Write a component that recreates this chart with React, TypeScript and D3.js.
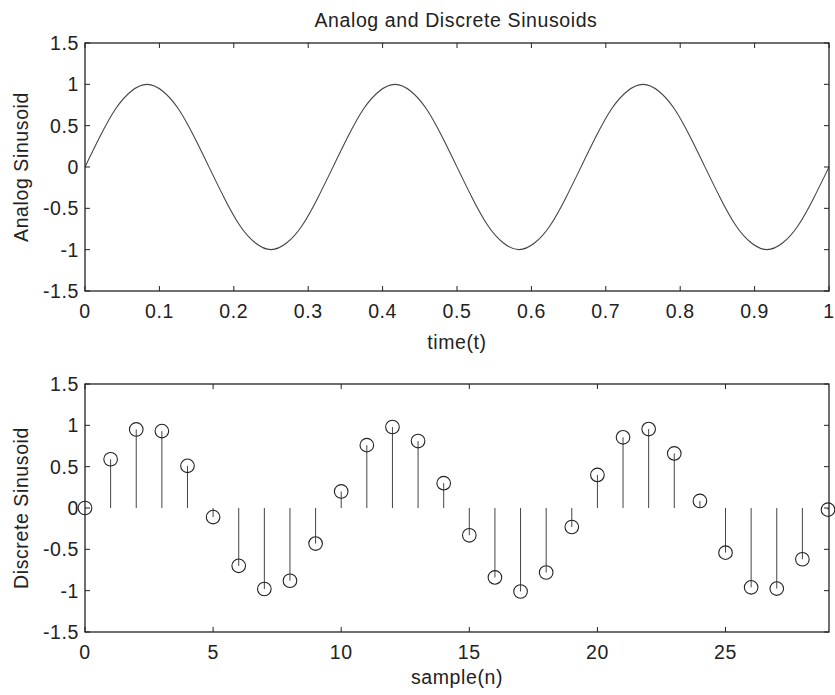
import React from 'react';
import * as d3 from 'd3';

// analog sinusoid (evenly spaced over t = 0..1)
const analogValues = [
  0, 0.38, 0.71, 0.92, 1, 0.92, 0.71, 0.38, 0, -0.38, -0.71, -0.92, -1, -0.92, -0.71, -0.38,
  0, 0.38, 0.71, 0.92, 1, 0.92, 0.71, 0.38, 0, -0.38, -0.71, -0.92, -1, -0.92, -0.71, -0.38,
  0, 0.38, 0.71, 0.92, 1, 0.92, 0.71, 0.38, 0, -0.38, -0.71, -0.92, -1, -0.92, -0.71, -0.38, 0,
];

// discrete samples n = 0..29
const discreteValues = [
  0, 0.59, 0.95, 0.93, 0.51, -0.11, -0.7, -0.98, -0.88, -0.43,
  0.2, 0.76, 0.98, 0.81, 0.3, -0.33, -0.84, -1.01, -0.78, -0.23,
  0.4, 0.855, 0.955, 0.66, 0.085, -0.54, -0.96, -0.975, -0.62, -0.02,
];

const timeTicks = [0, 0.1, 0.2, 0.3, 0.4, 0.5, 0.6, 0.7, 0.8, 0.9, 1];
const sampleTicks = [0, 5, 10, 15, 20, 25];
const yTicks = [-1.5, -1, -0.5, 0, 0.5, 1, 1.5];

const W = 835;
const H = 695;
const left = 85;
const right = 829;
const ink = '#222';
const lineCol = '#444';
const font = '"Liberation Sans", Arial, sans-serif';
const fs = 19.5;
const ls = 0.6;

const fmt = (v: number) => String(v);

const Frame = ({ x, y, xTicks, yLabel, xLabel, xLabelY }: any) => {
  const [y0, y1] = y.range();
  const tl = 5;
  return (
    <g>
      <rect x={left} y={y1} width={right - left} height={y0 - y1} fill="none" stroke={ink} strokeWidth={1.3} />
      {xTicks.map((t: number) => (
        <g key={'x' + t}>
          <line x1={x(t)} x2={x(t)} y1={y1} y2={y1 + tl} stroke={ink} strokeWidth={1} />
          <line x1={x(t)} x2={x(t)} y1={y0} y2={y0 - tl} stroke={ink} strokeWidth={1} />
          <text x={x(t)} y={y0 + 27} textAnchor="middle" fontSize={fs} letterSpacing={ls} fill={ink} fontFamily={font}>
            {fmt(t)}
          </text>
        </g>
      ))}
      {yTicks.map((t) => (
        <g key={'y' + t}>
          <line x1={left} x2={left + tl} y1={y(t)} y2={y(t)} stroke={ink} strokeWidth={1} />
          <line x1={right} x2={right - tl} y1={y(t)} y2={y(t)} stroke={ink} strokeWidth={1} />
          <text x={left - 6} y={y(t)} dy="0.36em" textAnchor="end" fontSize={fs} letterSpacing={ls} fill={ink} fontFamily={font}>
            {fmt(t)}
          </text>
        </g>
      ))}
      <text
        transform={`translate(21,${(y0 + y1) / 2}) rotate(-90)`}
        dy="0.35em"
        textAnchor="middle"
        fontSize={fs}
        letterSpacing={ls}
        fill={ink}
        fontFamily={font}
      >
        {yLabel}
      </text>
      <text x={(left + right) / 2} y={xLabelY} textAnchor="middle" fontSize={fs} letterSpacing={ls} fill={ink} fontFamily={font}>
        {xLabel}
      </text>
    </g>
  );
};

export default function App() {
  const xTop = d3.scaleLinear().domain([0, 1]).range([left, right]);
  const yTop = d3.scaleLinear().domain([-1.5, 1.5]).range([291, 43]);
  const xBot = d3.scaleLinear().domain([0, 29]).range([left, right - 1]);
  const yBot = d3.scaleLinear().domain([-1.5, 1.5]).range([632, 384]);

  const n = analogValues.length - 1;
  const line = d3
    .line<number>()
    .x((_, i) => xTop(i / n))
    .y((v) => yTop(v))
    .curve(d3.curveNatural);

  return (
    <svg width={W} height={H} style={{ position: 'absolute', left: 0, top: 0, background: '#fff' }}>
      <rect width={W} height={H} fill="#fff" />
      <text x={456} y={27} textAnchor="middle" fontSize={fs} letterSpacing={ls} fill={ink} fontFamily={font}>
        Analog and Discrete Sinusoids
      </text>

      <path d={line(analogValues) || ''} fill="none" stroke={lineCol} strokeWidth={1.1} />
      <Frame x={xTop} y={yTop} xTicks={timeTicks} yLabel="Analog Sinusoid" xLabel="time(t)" xLabelY={349} />

      {discreteValues.map((v, i) => (
        <g key={i}>
          <line x1={xBot(i)} x2={xBot(i)} y1={yBot(0)} y2={yBot(v)} stroke={lineCol} strokeWidth={1} />
          <circle cx={xBot(i)} cy={yBot(v)} r={6.8} fill="none" stroke={ink} strokeWidth={1.1} />
        </g>
      ))}
      <Frame x={xBot} y={yBot} xTicks={sampleTicks} yLabel="Discrete Sinusoid" xLabel="sample(n)" xLabelY={684} />
    </svg>
  );
}
